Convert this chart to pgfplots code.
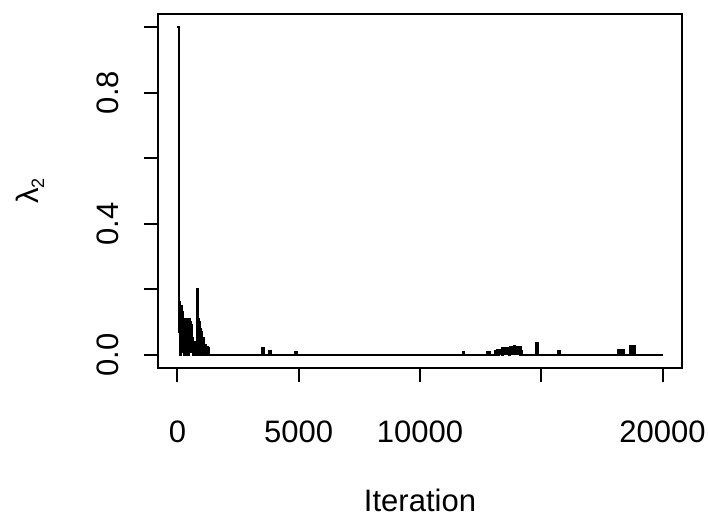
\documentclass[border=0pt]{standalone}
\usepackage{fontspec}
\setmainfont{Liberation Sans}
\usepackage{pgfplots}
\pgfplotsset{compat=1.18}
\begin{document}
\fontsize{15.5}{18}\selectfont
\begin{tikzpicture}
\useasboundingbox (0,0) rectangle (354pt,260pt);
\begin{axis}[
  at={(79pt,76pt)}, anchor=south west,
  scale only axis, width=262pt, height=177pt,
  xmin=-800, xmax=20800, ymin=-0.04, ymax=1.04,
  axis line style={line width=1pt},
  every tick/.style={black, line width=1pt},
  tick align=outside, major tick length=7pt,
  xtick pos=bottom, ytick pos=left,
  xtick={0,5000,10000,15000,20000},
  xticklabels={0,5000,10000,,20000},
  ytick={0,0.2,0.4,0.6,0.8,1.0},
  yticklabels={0.0,,0.4,,0.8,},
  scaled x ticks=false,
  xticklabel style={anchor=center, yshift=-25pt},
  yticklabel style={rotate=90, anchor=center},
  yticklabel shift=18pt,
  xlabel={Iteration},
  ylabel={λ\raisebox{-0.35ex}{\small 2}},
  xlabel style={at={(axis description cs:0.5,-0.373)}, anchor=center},
  ylabel style={at={(axis description cs:-0.244,0.5)}, anchor=center},
  axis background/.style={fill=white},
]
\addplot[const plot, black, line width=1.1pt] coordinates {
(0,1.0) (60,0.07) (80,0.16) (100,0.02) (115,0.14) (130,0.0) (145,0.12) (160,0.05)
(175,0.15) (190,0.01) (205,0.13) (220,0.03) (240,0.1) (260,0.0) (275,0.11) (295,0.04)
(310,0.1) (330,0.0) (345,0.09) (365,0.02) (380,0.11) (400,0.05) (420,0.1) (440,0.0)
(455,0.08) (475,0.03) (490,0.11) (510,0.01) (530,0.1) (550,0.04) (570,0.09) (590,0.01)
(610,0.05) (630,0.0) (650,0.03) (680,0.01) (700,0.04) (730,0.0) (760,0.02) (790,0.0)
(810,0.2) (830,0.05) (850,0.11) (870,0.02) (890,0.1) (910,0.0) (930,0.08) (950,0.03)
(970,0.07) (990,0.01) (1010,0.06) (1030,0.0) (1050,0.05) (1080,0.01) (1100,0.03)
(1130,0.0) (1150,0.03) (1180,0.01) (1210,0.025) (1240,0.0) (1270,0.02) (1300,0.0)
(3500,0.02) (3580,0.0) (3780,0.012) (3840,0.0) (4870,0.01) (4930,0.0)
(11760,0.01) (11820,0.0)
(12750,0.01) (12790,0.0) (12830,0.01) (12880,0.0)
(13090,0.012) (13130,0.0) (13170,0.015) (13210,0.0) (13250,0.015) (13290,0.002) (13330,0.014) (13370,0.0)
(13400,0.02) (13440,0.003) (13480,0.02) (13520,0.004) (13560,0.02) (13600,0.002) (13640,0.02) (13680,0.0)
(13700,0.025) (13740,0.004) (13780,0.025) (13820,0.003) (13860,0.026) (13900,0.004) (13940,0.025) (13980,0.003) (14020,0.025) (14060,0.004) (14100,0.024) (14140,0.0)
(14160,0.012) (14200,0.0)
(14800,0.035) (14850,0.0) (15700,0.012) (15760,0.0)
(18150,0.015) (18190,0.0) (18230,0.015) (18270,0.0) (18310,0.015) (18350,0.0) (18380,0.014) (18400,0.0)
(18650,0.027) (18690,0.0) (18730,0.027) (18770,0.0) (18810,0.026) (18850,0.0) (20000,0.0)
};
\end{axis}
\end{tikzpicture}
\end{document}
